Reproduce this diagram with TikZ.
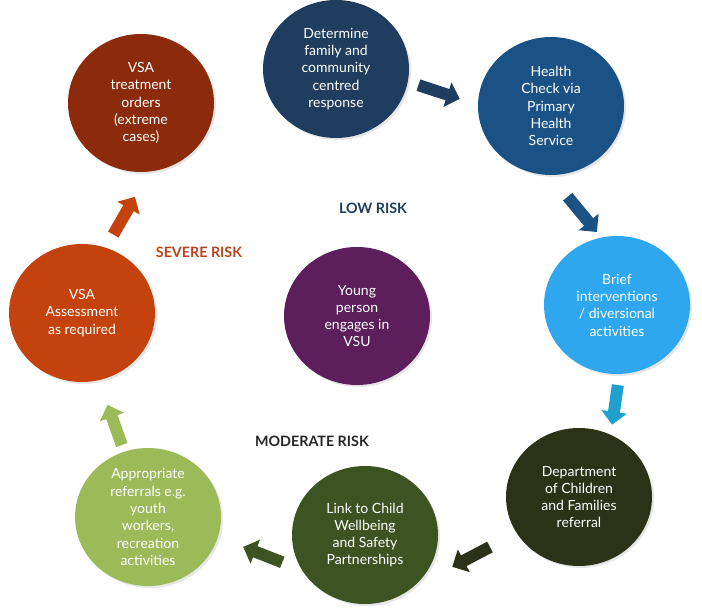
\documentclass[tikz,border=0pt]{standalone}
\usepackage{fontspec}
\setmainfont{Lato}
\usetikzlibrary{shapes.geometric,arrows.meta,shadows}

\definecolor{navytua}{HTML}{1F3D5F}
\definecolor{birutua}{HTML}{1B5285}
\definecolor{birumuda}{HTML}{2EA7EE}
\definecolor{birupanah}{HTML}{1FA0CF}
\definecolor{zaitun}{HTML}{2B3218}
\definecolor{hijautua}{HTML}{3D5422}
\definecolor{hijaumuda}{HTML}{9BBB59}
\definecolor{oranye}{HTML}{C4420E}
\definecolor{merahtua}{HTML}{8B2B0B}
\definecolor{ungu}{HTML}{5C1F5C}
\definecolor{teksmerah}{HTML}{B8441C}

\begin{document}
\begin{tikzpicture}[x=1pt,y=-1pt,
    langkah/.style={ellipse, minimum width=146pt, minimum height=138pt, inner sep=0pt,
        text=white, align=center, font=\fontsize{14}{17.3}\selectfont,
        drop shadow={opacity=0.2, shadow xshift=2pt, shadow yshift=-2pt}},
    panah/.style={line width=12pt, -{Triangle[width=25pt,length=13pt]}},
    risiko/.style={font=\fontsize{14.3}{16}\selectfont\bfseries}]
    \useasboundingbox (0,0) rectangle (702,612);

    % Lingkaran langkah-langkah
    \node[langkah, fill=navytua] (det) at (336,69) {Determine\\family and\\community\\centred\\response};
    \node[langkah, fill=birutua] (health) at (551,106) {Health\\Check via\\Primary\\Health\\Service};
    \node[langkah, fill=birumuda] (brief) at (617,305) {Brief\\interventions\\/ diversional\\activities};
    \node[langkah, fill=zaitun] (dcf) at (579,497) {Department\\of Children\\and Families\\referral};
    \node[langkah, fill=hijautua] (link) at (365,535) {Link to Child\\Wellbeing\\and Safety\\Partnerships};
    \node[langkah, fill=hijaumuda] (refer) at (148,517) {Appropriate\\referrals e.g.\\youth\\workers,\\recreation\\activities};
    \node[langkah, fill=oranye] (assess) at (82,313) {VSA\\Assessment\\as required};
    \node[langkah, fill=merahtua] (order) at (141,103) {VSA\\treatment\\orders\\(extreme\\cases)};

    % Lingkaran tengah
    \node[langkah, fill=ungu] (young) at (357,316) {Young\\person\\engages in\\VSU};

    % Label tingkat risiko
    \node[risiko, text=navytua] (low) at (373,208) {LOW RISK};
    \node[risiko, text=teksmerah] (severe) at (199,252) {SEVERE RISK};
    \node[risiko, text=black!85] (moderate) at (312,441) {MODERATE RISK};

    % Panah antar langkah
    \draw[panah, navytua, shorten <=11pt, shorten >=19pt] (det.-10) -- (health.179);
    \draw[panah, birutua, shorten <=28pt, shorten >=7pt] (health.-91) -- (brief.103);
    \draw[panah, birupanah, shorten <=11pt, shorten >=10pt] (brief.-88) -- (dcf.63);
    \draw[panah, zaitun, shorten <=30pt, shorten >=45pt] (dcf.-150) -- (link.-48);
    \draw[panah, hijautua, shorten <=21pt, shorten >=27pt] (link.-151) -- (refer.-16);
    \draw[panah, hijaumuda, shorten <=7pt, shorten >=26pt] (refer.110) -- (assess.-76);
    \draw[panah, oranye, shorten <=15pt, shorten >=29pt] (assess.70) -- (order.-83);

\end{tikzpicture}
\end{document}
